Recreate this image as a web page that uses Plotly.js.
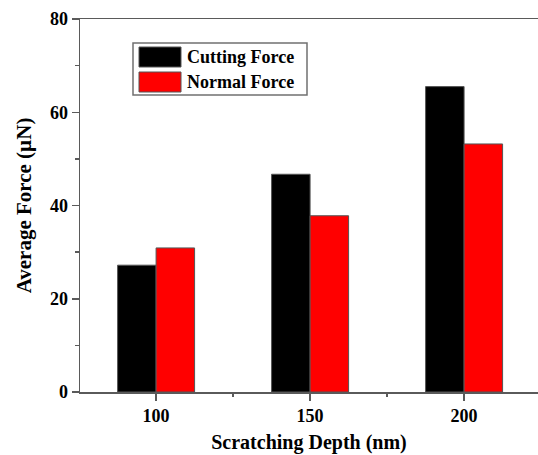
<!DOCTYPE html>
<html>
<head>
<meta charset="utf-8">
<script src="https://cdn.plot.ly/plotly-3.0.1.min.js"></script>
<style>html,body{margin:0;padding:0;background:#fff;}#chart{width:538px;height:455px;}</style>
</head>
<body>
<div id="chart"></div>
<script>
// ---- data ----
const depths = [100, 150, 200];
const seriesNames = ["Cutting Force", "Normal Force"];
const cuttingForce = [27.2, 46.7, 65.5];
const normalForce = [30.9, 37.8, 53.2];
const xTickVals = [100, 150, 200];
const xTickText = ["100", "150", "200"];
const yTickVals = [0, 20, 40, 60, 80];
const yTickText = ["0", "20", "40", "60", "80"];
const xTitle = "Scratching Depth (nm)";
const yTitle = "Average Force (µN)";

const W = 538, H = 455;
const L = 80, T = 19, B = 63, R = 0;
const fontFam = "'Liberation Serif', 'Times New Roman', serif";
const colors = ["#000000", "#ff0000"];
const axisColor = "#5a5a5a";

const traces = [cuttingForce, normalForce].map((vals, i) => ({
  type: "bar",
  name: seriesNames[i],
  x: depths,
  y: vals,
  marker: {color: colors[i], line: {color: "#555555", width: 1}},
  showlegend: false,
  hoverinfo: "x+y"
}));

// custom legend (large swatches), positions in pixels converted to paper coords
const pw = W - L - R, ph = H - T - B;
const px = v => (v - L) / pw;
const py = v => (H - B - v) / ph;
const shapes = [
  {type: "rect", xref: "paper", yref: "paper", x0: px(133), x1: px(307), y0: py(95), y1: py(43),
   line: {color: "#707070", width: 1.5}, fillcolor: "rgba(255,255,255,0)"}
];
const annotations = [];
const swY = [[47, 67], [72, 92]];
seriesNames.forEach((n, i) => {
  shapes.push({type: "rect", xref: "paper", yref: "paper", x0: px(139), x1: px(181),
    y0: py(swY[i][1]), y1: py(swY[i][0]), fillcolor: colors[i], line: {color: "#555555", width: 1}});
  annotations.push({xref: "paper", yref: "paper", x: px(185), y: py((swY[i][0] + swY[i][1]) / 2),
    xanchor: "left", yanchor: "middle", showarrow: false, text: "<b>" + n + "</b>",
    font: {family: fontFam, size: 18, color: "#000"}});
});

const layout = {
  width: W, height: H,
  margin: {l: L, r: R, t: T, b: B, pad: 0},
  paper_bgcolor: "#fff", plot_bgcolor: "#fff",
  barmode: "group", bargap: 0.5, bargroupgap: 0,
  font: {family: fontFam, color: "#000"},
  xaxis: {
    range: [75.3, 224.0],
    tickmode: "array", tickvals: xTickVals, ticktext: xTickText.map(t => "<b>" + t + "</b>"),
    ticks: "outside", ticklen: 7, tickwidth: 1.5, tickcolor: axisColor,
    minor: {tickmode: "array", tickvals: [125, 175], ticks: "outside", ticklen: 3, tickwidth: 1.5, tickcolor: axisColor, showgrid: false},
    showline: true, linecolor: axisColor, linewidth: 1.5, mirror: true,
    showgrid: false, zeroline: false,
    tickfont: {family: fontFam, size: 18, color: "#000"},
    title: {text: "<b>" + xTitle + "</b>", font: {family: fontFam, size: 20, color: "#000"}, standoff: 10}
  },
  yaxis: {
    range: [0, 80],
    tickmode: "array", tickvals: yTickVals, ticktext: yTickText.map(t => "<b>" + t + "</b>"),
    ticks: "outside", ticklen: 7, tickwidth: 1.5, tickcolor: axisColor,
    minor: {tickmode: "array", tickvals: [10, 30, 50, 70], ticks: "outside", ticklen: 4, tickwidth: 1.5, tickcolor: axisColor, showgrid: false},
    showline: true, linecolor: axisColor, linewidth: 1.5, mirror: false,
    showgrid: false, zeroline: false,
    tickfont: {family: fontFam, size: 18, color: "#000"},
    title: {text: "<b>" + yTitle + "</b>", font: {family: fontFam, size: 21, color: "#000"}, standoff: 12}
  },
  shapes: shapes,
  annotations: annotations,
  showlegend: false
};

Plotly.newPlot("chart", traces, layout, {displayModeBar: false, staticPlot: true});
</script>
</body>
</html>
